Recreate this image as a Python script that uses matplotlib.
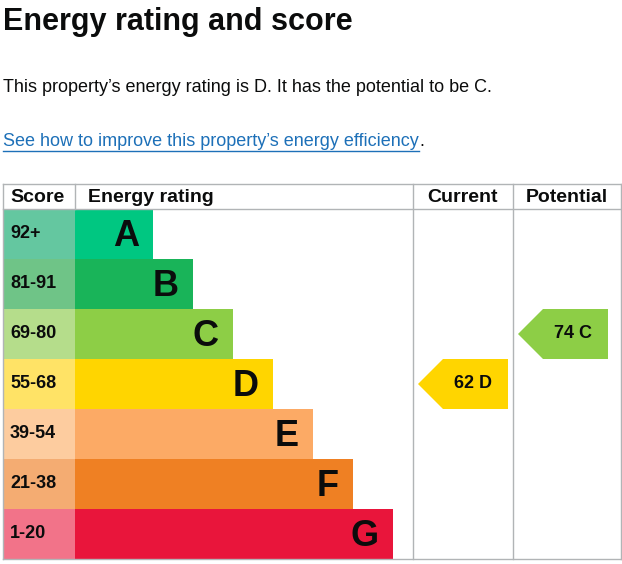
import matplotlib.pyplot as plt
from matplotlib.patches import Rectangle, Polygon

plt.rcParams['font.family'] = ['Liberation Sans', 'DejaVu Sans']

bands = ['A', 'B', 'C', 'D', 'E', 'F', 'G']
score_ranges = ['92+', '81-91', '69-80', '55-68', '39-54', '21-38', '1-20']
band_min = [92, 81, 69, 55, 39, 21, 1]
bar_colors = ['#00c781', '#19b459', '#8dce46', '#ffd500', '#fcaa65', '#ef8023', '#e9153b']
score_colors = ['#64c7a0', '#6fc487', '#b5dd8b', '#ffe366', '#fdcc9f', '#f4ac72', '#f27389']
current_score = 62
potential_score = 74

def band_of(s):
    for i, m in enumerate(band_min):
        if s >= m:
            return i
    return len(bands) - 1

fig = plt.figure(figsize=(6.22, 5.64), dpi=100)
ax = fig.add_axes([0, 0, 1, 1])
ax.set_xlim(0, 622)
ax.set_ylim(564, 0)
ax.axis('off')

ax.text(3, 22, 'Energy rating and score', fontsize=22, fontweight='bold', va='center', color='#0b0c0c')
ax.text(3, 87, 'This property\u2019s energy rating is D. It has the potential to be C.',
        fontsize=13, va='center', color='#0b0c0c')
link = ax.text(3, 142, 'See how to improve this property\u2019s energy efficiency', fontsize=13,
               va='center', color='#1d70b8')
fig.canvas.draw()
bb = link.get_window_extent()
xr = bb.x1
ax.plot([3, xr], [151, 151], color='#1d70b8', lw=1)
ax.text(xr + 1, 142, '.', fontsize=13, va='center', color='#0b0c0c')

top, head, row_h = 184, 209, 50
bottom = head + row_h * len(bands)
grid = '#b1b4b6'
for x in [3, 413, 513, 621]:
    ax.plot([x, x], [top, bottom], color=grid, lw=1)
ax.plot([75, 75], [top, head], color=grid, lw=1)
for y in [top, head, bottom]:
    ax.plot([3, 621], [y, y], color=grid, lw=1)

hdr = dict(fontsize=14, fontweight='bold', va='center', color='#0b0c0c')
ax.text(10, 197, 'Score', **hdr)
ax.text(88, 197, 'Energy rating', **hdr)
ax.text(463, 197, 'Current', ha='center', **hdr)
ax.text(567, 197, 'Potential', ha='center', **hdr)

for i, b in enumerate(bands):
    y0 = head + i * row_h
    ax.add_patch(Rectangle((3, y0), 72, row_h, color=score_colors[i], lw=0))
    ax.text(10, y0 + 25, score_ranges[i], fontsize=13, fontweight='bold', va='center', color='#0b0c0c')
    right = 153 + 40 * i
    ax.add_patch(Rectangle((75, y0), right - 75, row_h, color=bar_colors[i], lw=0))
    ax.text(right - 14, y0 + 27, b, fontsize=26, fontweight='bold', ha='right', va='center', color='#0b0c0c')

def arrow(score, x0):
    i = band_of(score)
    y0 = head + i * row_h
    pts = [(x0, y0 + 25), (x0 + 25, y0), (x0 + 90, y0), (x0 + 90, y0 + row_h), (x0 + 25, y0 + row_h)]
    ax.add_patch(Polygon(pts, closed=True, color=bar_colors[i], lw=0))
    ax.text(x0 + 55, y0 + 25, f'{score} {bands[i]}', fontsize=13, fontweight='bold',
            ha='center', va='center', color='#0b0c0c')

arrow(current_score, 418)
arrow(potential_score, 518)

fig.savefig('out.png', dpi=100)
